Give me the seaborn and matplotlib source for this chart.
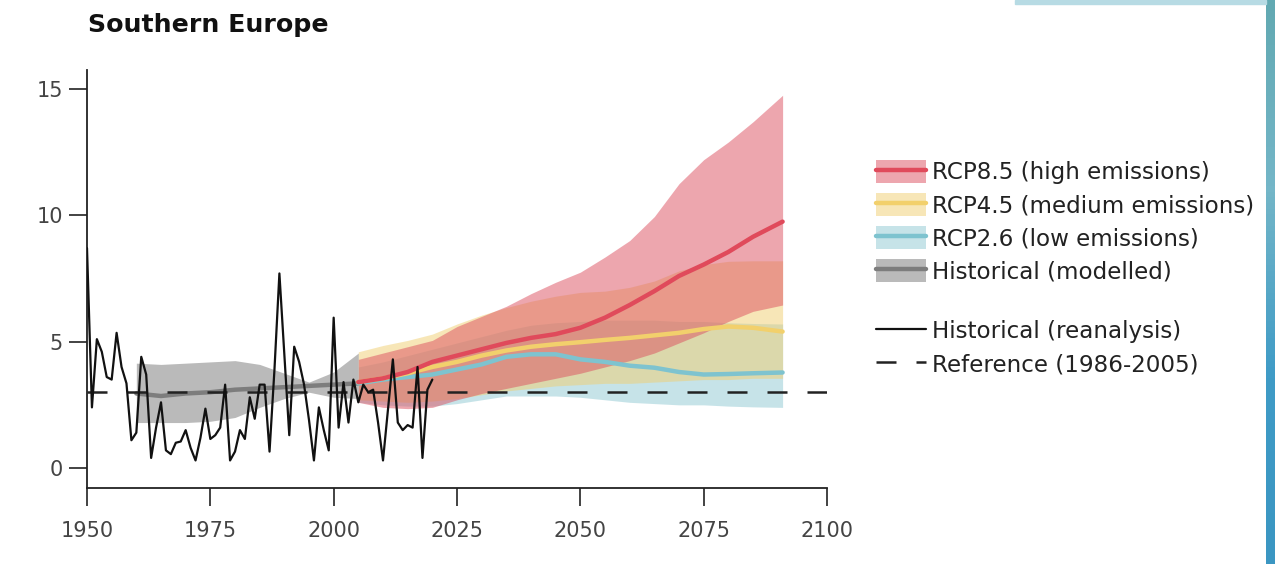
import numpy as np
import pandas as pd
import matplotlib
matplotlib.use("Agg")
import matplotlib.pyplot as plt
import seaborn as sns
from matplotlib.patches import Patch, Rectangle
from matplotlib.lines import Line2D
from matplotlib.colors import LinearSegmentedColormap

# ---------------- data ----------------
title = "Southern Europe"

reanalysis_years = list(range(1950, 2021))
reanalysis = [8.7, 2.4, 5.1, 4.6, 3.6, 3.5, 5.35, 4.0, 3.35, 1.1,
              1.4, 4.4, 3.7, 0.4, 1.6, 2.6, 0.7, 0.55, 1.0, 1.05,
              1.5, 0.8, 0.3, 1.2, 2.35, 1.15, 1.3, 1.6, 3.3, 0.3,
              0.65, 1.5, 1.15, 2.8, 1.95, 3.3, 3.3, 0.65, 3.9, 7.7,
              4.5, 1.3, 4.8, 4.2, 3.3, 1.9, 0.3, 2.4, 1.5, 0.7,
              5.95, 1.6, 3.4, 1.8, 3.5, 2.6, 3.3, 3.0, 3.1, 1.8,
              0.3, 2.3, 4.3, 1.8, 1.5, 1.7, 1.6, 4.0, 0.4, 3.1,
              3.5]

reference_value = 3.0
reference_span = [1950, 2100]

hist_years = [1960, 1965, 1970, 1975, 1980, 1985, 1990, 1995, 2000, 2005]
hist_median = [2.95, 2.85, 2.95, 3.0, 3.1, 3.15, 3.2, 3.25, 3.3, 3.35]
hist_upper = [4.15, 4.1, 4.15, 4.2, 4.25, 4.1, 3.75, 3.4, 3.8, 4.55]
hist_lower = [1.8, 1.8, 1.8, 1.85, 2.0, 2.4, 2.75, 3.0, 2.8, 2.75]

proj_years = [2005, 2010, 2015, 2020, 2025, 2030, 2035, 2040, 2045,
              2050, 2055, 2060, 2065, 2070, 2075, 2080, 2085, 2091]

rcp85_median = [3.4, 3.55, 3.8, 4.2, 4.45, 4.7, 4.95, 5.15, 5.3,
                5.55, 5.95, 6.45, 7.0, 7.6, 8.05, 8.55, 9.15, 9.75]
rcp85_upper = [4.3, 4.55, 4.8, 5.05, 5.6, 6.0, 6.4, 6.9, 7.35,
               7.75, 8.35, 9.0, 9.95, 11.25, 12.2, 12.9, 13.7, 14.75]
rcp85_lower = [2.6, 2.4, 2.35, 2.4, 2.7, 2.95, 3.15, 3.35, 3.55,
               3.75, 4.0, 4.25, 4.55, 4.95, 5.35, 5.8, 6.2, 6.45]

rcp45_median = [3.4, 3.55, 3.75, 4.0, 4.2, 4.45, 4.65, 4.8, 4.9,
                4.98, 5.07, 5.15, 5.25, 5.35, 5.5, 5.6, 5.55, 5.4]
rcp45_upper = [4.6, 4.85, 5.05, 5.3, 5.7, 6.05, 6.35, 6.6, 6.8,
               6.95, 7.0, 7.15, 7.4, 7.8, 8.05, 8.18, 8.2, 8.2]
rcp45_lower = [2.7, 2.65, 2.6, 2.65, 2.75, 2.9, 3.05, 3.15, 3.25,
               3.3, 3.35, 3.35, 3.4, 3.45, 3.5, 3.5, 3.55, 3.55]

rcp26_median = [3.35, 3.5, 3.6, 3.7, 3.9, 4.1, 4.4, 4.5, 4.5,
                4.3, 4.2, 4.05, 3.97, 3.8, 3.7, 3.72, 3.75, 3.78]
rcp26_upper = [4.0, 4.2, 4.45, 4.7, 4.95, 5.2, 5.45, 5.65, 5.75,
               5.8, 5.85, 5.85, 5.85, 5.8, 5.8, 5.75, 5.72, 5.7]
rcp26_lower = [2.6, 2.5, 2.45, 2.45, 2.55, 2.7, 2.85, 2.85, 2.85,
               2.8, 2.7, 2.6, 2.55, 2.5, 2.5, 2.45, 2.42, 2.4]

labels_bands = ["RCP8.5 (high emissions)", "RCP4.5 (medium emissions)",
                "RCP2.6 (low emissions)", "Historical (modelled)"]
labels_lines = ["Historical (reanalysis)", "Reference (1986-2005)"]

x_ticks = [1950, 1975, 2000, 2025, 2050, 2075, 2100]
y_ticks = [0, 5, 10, 15]

# ---------------- style ----------------
sns.set_style("ticks")
plt.rcParams["font.family"] = ["DejaVu Sans"]

col85, col45, col26, colh = "#dc4e5f", "#f0cf70", "#8fc8d2", "#7d7d7d"
line85, line45, line26 = "#e04a5b", "#f2d06c", "#7ec3cf"
hist_band = "#bababa"
band_alpha = 0.5

fig = plt.figure(figsize=(12.75, 5.64), dpi=100)
ax = fig.add_axes([87 / 1275, 1 - 488 / 564, 740 / 1275, 418 / 564])

# bands
ax.fill_between(hist_years, hist_lower, hist_upper, color=hist_band, lw=0, zorder=1)
ax.fill_between(proj_years, rcp26_lower, rcp26_upper, color=col26, alpha=band_alpha, lw=0, zorder=1)
ax.fill_between(proj_years, rcp45_lower, rcp45_upper, color=col45, alpha=band_alpha, lw=0, zorder=1)
ax.fill_between(proj_years, rcp85_lower, rcp85_upper, color=col85, alpha=band_alpha, lw=0, zorder=1)

# medians
df_h = pd.DataFrame({"year": hist_years, "v": hist_median})
sns.lineplot(data=df_h, x="year", y="v", ax=ax, color=colh, lw=3.2, estimator=None, zorder=2)
for med, c in [(rcp26_median, line26), (rcp45_median, line45), (rcp85_median, line85)]:
    d = pd.DataFrame({"year": proj_years, "v": med})
    sns.lineplot(data=d, x="year", y="v", ax=ax, color=c, lw=3.2, estimator=None, zorder=2)

# reference dashed
df_ref = pd.DataFrame({"year": reference_span, "v": [reference_value] * 2})
sns.lineplot(data=df_ref, x="year", y="v", ax=ax, color="#222222", lw=1.8,
             estimator=None, zorder=3, linestyle=(0, (8, 8)))

# reanalysis
df_r = pd.DataFrame({"year": reanalysis_years, "v": reanalysis})
sns.lineplot(data=df_r, x="year", y="v", ax=ax, color="#111111", lw=1.6, estimator=None, zorder=4)

ax.set_xlim(1950, 2100)
ax.set_ylim(-0.79, 15.75)
ax.set_xticks(x_ticks)
ax.set_yticks(y_ticks)
ax.set_xlabel("")
ax.set_ylabel("")
ax.tick_params(axis="both", labelsize=15, colors="#222222", labelcolor="#444444",
               length=13, width=1.2, direction="out", pad=4.5)
ax.tick_params(axis="x", pad=10.5)
for s in ["left", "bottom"]:
    ax.spines[s].set_linewidth(1.3)
    ax.spines[s].set_color("#222222")
sns.despine(ax=ax)

fig.text(88 / 1275, 1 - 25 / 564, title, fontsize=18.2, fontweight="bold",
         ha="left", va="center", color="#111111")

# legends
leg_fs = 16.6
band_handles = []
for c, lc in [(col85, line85), (col45, line45), (col26, line26), (hist_band, colh)]:
    p = Patch(facecolor=c, alpha=(band_alpha if c != hist_band else 1.0), edgecolor="none")
    l = Line2D([], [], color=lc, lw=3.2)
    band_handles.append((p, l))
leg_kw = dict(loc="upper left", frameon=False, fontsize=leg_fs, handlelength=2.15,
              handleheight=1.15, handletextpad=0.27, labelspacing=0.38,
              borderpad=0, borderaxespad=0)
leg1 = fig.legend(band_handles, labels_bands,
                  bbox_to_anchor=(876 / 1275, 1 - 160 / 564), **leg_kw)
line_handles = [Line2D([], [], color="#111111", lw=1.6),
                Line2D([], [], color="#222222", lw=1.8, linestyle=(0, (8, 8)))]
leg2 = fig.legend(line_handles, labels_lines,
                  bbox_to_anchor=(876 / 1275, 1 - 319 / 564), **leg_kw)
for t in leg1.get_texts() + leg2.get_texts():
    t.set_color("#222222")

# decorative slide edge at right
dax = fig.add_axes([1266 / 1275, 0, 9 / 1275, 1])
cmap = LinearSegmentedColormap.from_list("edge", ["#62a9b2", "#74b6c8", "#3f9bc6", "#3b96c2"])
dax.imshow(np.linspace(0, 1, 100).reshape(-1, 1), aspect="auto", cmap=cmap)
dax.axis("off")
fig.patches.append(Rectangle((1015 / 1275, 1 - 4 / 564), 251 / 1275, 4 / 564,
                             transform=fig.transFigure, color="#b7dbe4", zorder=0))

fig.savefig("out.png", dpi=100)
